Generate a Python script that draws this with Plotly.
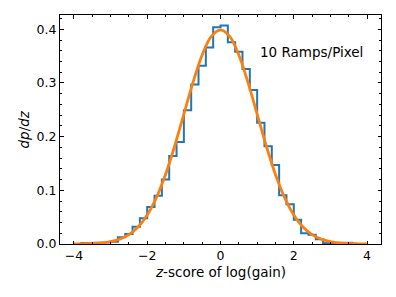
import plotly.graph_objects as go

# Histogram (step) data: bin edges and densities
bin_edges = [-3.8, -3.6, -3.4, -3.2, -3.0, -2.8, -2.6, -2.4, -2.2, -2.0, -1.8, -1.6, -1.4, -1.2,
             -1.0, -0.8, -0.6, -0.4, -0.2, 0.0, 0.2, 0.4, 0.6, 0.8, 1.0, 1.2, 1.4, 1.6, 1.8,
             2.0, 2.2, 2.4, 2.6, 2.8, 3.0, 3.2, 3.4, 3.6]
densities = [0.002, 0.002, 0.002, 0.003, 0.004, 0.0125, 0.0186, 0.032, 0.048, 0.069, 0.090,
             0.120, 0.164, 0.190, 0.249, 0.297, 0.332, 0.366, 0.404, 0.407, 0.376, 0.358,
             0.326, 0.287, 0.226, 0.182, 0.147, 0.091, 0.074, 0.045, 0.020, 0.017, 0.009,
             0.0015, 0.0012, 0.0012, 0.0025]

# Model curve
curve_x = [-4.0, -3.75, -3.5, -3.25, -3.0, -2.75, -2.5, -2.25, -2.0, -1.75, -1.5, -1.25, -1.0,
           -0.75, -0.5, -0.25, 0.0, 0.25, 0.5, 0.75, 1.0, 1.25, 1.5, 1.75, 2.0, 2.25, 2.5,
           2.75, 3.0, 3.25, 3.5, 3.75, 4.0]
curve_y = [0.0001, 0.0004, 0.0009, 0.0020, 0.0044, 0.0091, 0.0175, 0.0317, 0.0540, 0.0863,
           0.1295, 0.1826, 0.2420, 0.3011, 0.3521, 0.3867, 0.3989, 0.3867, 0.3521, 0.3011,
           0.2420, 0.1826, 0.1295, 0.0863, 0.0540, 0.0317, 0.0175, 0.0091, 0.0044, 0.0020,
           0.0009, 0.0004, 0.0001]

x_ticks = [-4, -2, 0, 2, 4]
y_ticks = [0.0, 0.1, 0.2, 0.3, 0.4]
x_label = "<i>z</i>-score of log(gain)"
y_label = "<i>dp</i>/<i>dz</i>"
annotation_text = "10 Ramps/Pixel"

# Build step outline (closed at baseline like a step histogram)
step_x = [bin_edges[0]]
step_y = [0.0]
for i, d in enumerate(densities):
    step_x += [bin_edges[i], bin_edges[i + 1]]
    step_y += [d, d]
step_x.append(bin_edges[-1])
step_y.append(0.0)

fig = go.Figure()
fig.add_trace(go.Scatter(x=step_x, y=step_y, mode="lines",
                         line=dict(color="#1f77b4", width=2), showlegend=False))
fig.add_trace(go.Scatter(x=curve_x, y=curve_y, mode="lines",
                         line=dict(color="#ff7f0e", width=2.8, shape="spline", smoothing=1),
                         showlegend=False))

font = "DejaVu Sans"
axis_common = dict(showline=True, linecolor="black", linewidth=1, mirror="allticks",
                   ticks="inside", ticklen=3.5, tickwidth=1, tickcolor="black",
                   showgrid=False, zeroline=False, automargin=False,
                   tickfont=dict(family=font, size=12.5, color="black"))

fig.update_xaxes(range=[-4.38, 4.38], tickvals=x_ticks,
                 minor=dict(dtick=0.5, tick0=0, ticks="inside", ticklen=2, tickcolor="black",
                            showgrid=False),
                 **axis_common)
fig.update_yaxes(range=[0, 0.4266], tickvals=y_ticks, tickformat=".1f",
                 minor=dict(dtick=0.02, tick0=0, ticks="inside", ticklen=2, tickcolor="black",
                            showgrid=False),
                 **axis_common)

fig.add_annotation(text=x_label, xref="paper", yref="paper", x=0.5, y=0, yshift=-27.7,
                   showarrow=False, xanchor="center", yanchor="middle",
                   font=dict(family=font, size=13.5, color="black"))
fig.add_annotation(text=y_label, xref="paper", yref="paper", x=0, y=0.5, xshift=-37,
                   textangle=-90, showarrow=False, xanchor="center", yanchor="middle",
                   font=dict(family=font, size=13.5, color="black"))
fig.add_annotation(text=annotation_text, xref="paper", yref="paper",
                   x=0.784, y=0.837, showarrow=False, xanchor="center", yanchor="middle",
                   font=dict(family=font, size=13.5, color="black"))

# The page body has an 8px default margin; the figure is sized to compensate.
fig.update_layout(width=388, height=289,
                  margin=dict(l=52, r=14.5, t=6.5, b=53),
                  plot_bgcolor="white", paper_bgcolor="white")

fig.write_html("out.html")
